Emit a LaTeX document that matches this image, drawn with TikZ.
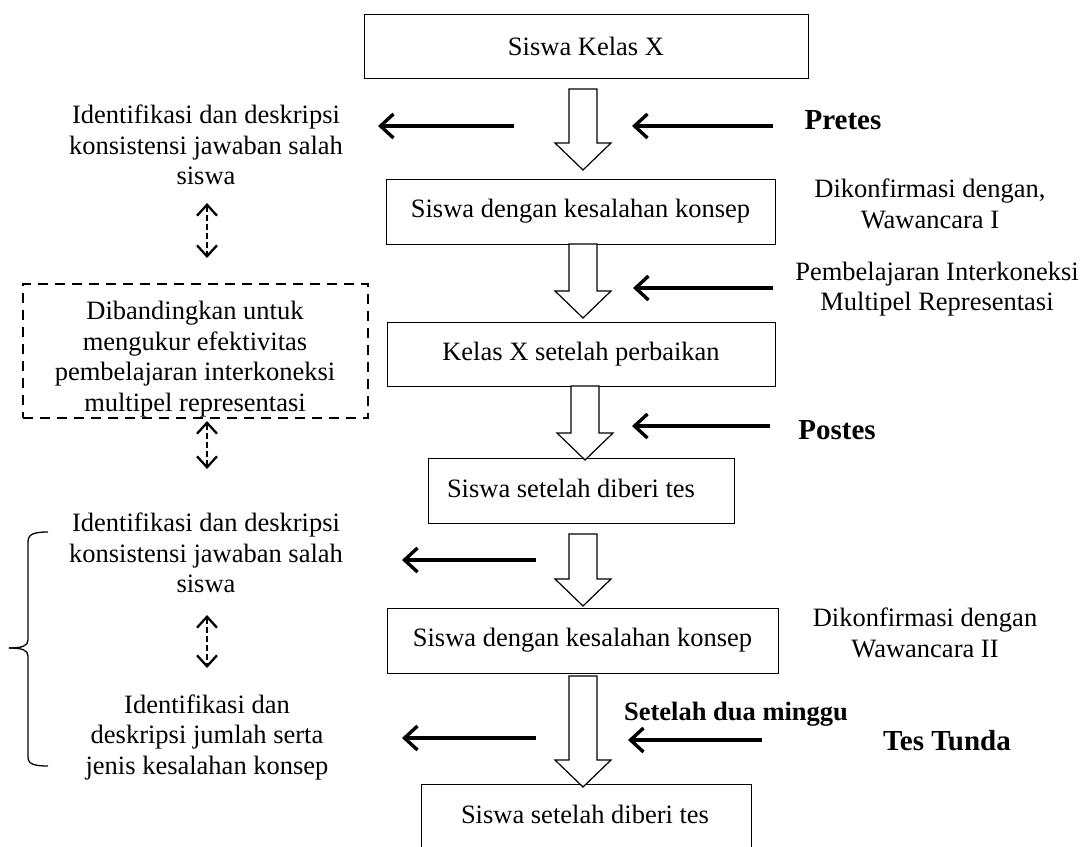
\documentclass[tikz,border=0pt]{standalone}
\usepackage{fontspec}
\setmainfont{Liberation Serif}
\usetikzlibrary{arrows.meta}
\newcommand\fsn{\fontsize{26.5}{30.5}\selectfont}
\newcommand\fsb{\fontsize{29}{32}\selectfont\bfseries}
\newcommand\hollowarr[3]{\draw[hol] (#1-14,#2) -- (#1+14,#2) -- (#1+14,#3-27) -- (#1+28,#3-27) -- (#1,#3) -- (#1-28,#3-27) -- (#1-14,#3-27) -- cycle;}
\begin{document}
\begin{tikzpicture}[x=1pt,y=-1pt,
  box/.style={draw, line width=1pt, inner sep=0pt, font=\fsn},
  txt/.style={align=center, inner sep=0pt, font=\fsn},
  btxt/.style={inner sep=0pt, font=\fsb, anchor=base},
  hol/.style={draw, line width=1.2pt, fill=white, line join=miter},
  blk/.style={line width=3.4pt, -{Straight Barb[length=13pt,width=24pt,line width=3.4pt]}},
  dbl/.style={line width=2.3pt, dash pattern=on 6pt off 3pt,
    {Straight Barb[length=11pt,width=20pt,line width=2.3pt]}-{Straight Barb[length=11pt,width=20pt,line width=2.3pt]}},
  brc/.style={line width=1.3pt}]
\useasboundingbox (0,0) rectangle (1084,846);
\clip (0,0) rectangle (1084,846);
\fill[white] (0,0) rectangle (1084,846);

% main boxes
\node[box, minimum width=444, minimum height=64] (b1) at (586,46) {Siswa Kelas X};
\node[box, minimum width=389, minimum height=65] (b2) at (580.5,211.5) {Siswa dengan kesalahan konsep};
\node[box, minimum width=388, minimum height=64] (b3) at (581,354) {Kelas X setelah perbaikan};
\node[box, minimum width=306, minimum height=65] (b4) at (581,490.5) {};
\node[txt, anchor=base] (b4t) at (571,497) {Siswa setelah diberi tes};
\node[box, minimum width=391, minimum height=65] (b5) at (582.5,640.5) {Siswa dengan kesalahan konsep};
\node[box, minimum width=330, minimum height=120, anchor=north] (b6) at (586,784) {};
\node[txt, anchor=base] (b6t) at (585,823) {Siswa setelah diberi tes};

% hollow arrows
\hollowarr{583}{89}{170}
\hollowarr{583}{244}{318}
\hollowarr{585}{386}{460}
\hollowarr{583}{534}{606}
\hollowarr{583}{676}{787}

% left texts
\node[txt] (t1) at (206,145) {Identifikasi dan deskripsi\\konsistensi jawaban salah\\siswa};
\node[draw, dash pattern=on 10pt off 7pt, line width=2.2pt, minimum width=345, minimum height=134, inner sep=0pt] (cmpbox) at (195.5,351) {};
\node[txt] (cmp) at (195,359) {Dibandingkan untuk\\mengukur efektivitas\\pembelajaran interkoneksi\\multipel representasi};
\node[txt] (t2) at (206,553) {Identifikasi dan deskripsi\\konsistensi jawaban salah\\siswa};
\node[txt] (t3) at (207,737) {Identifikasi dan\\deskripsi jumlah serta\\jenis kesalahan konsep};

% right texts
\node[btxt] (pre) at (843,129) {Pretes};
\node[txt] (k1) at (930,204) {Dikonfirmasi dengan,\\Wawancara I};
\node[txt] (pmb) at (937,289) {Pembelajaran Interkoneksi\\Multipel Representasi};
\node[btxt] (post) at (837,439) {Postes};
\node[txt] (k2) at (925,633) {Dikonfirmasi dengan\\Wawancara II};
\node[btxt, font=\fontsize{26.5}{30}\selectfont\bfseries] (sdm) at (736,720) {Setelah dua minggu};
\node[btxt] (tt) at (947,750) {Tes Tunda};

% dashed double arrows
\coordinate (d1a) at (207,203); \coordinate (d1b) at (207,258);
\coordinate (d2a) at (207,421); \coordinate (d2b) at (207,469);
\coordinate (d3a) at (207,615); \coordinate (d3b) at (207,668);
\draw[dbl] (d1a) -- (d1b);
\draw[dbl] (d2a) -- (d2b);
\draw[dbl] (d3a) -- (d3b);

% black arrows
\coordinate (a1s) at (514,126); \coordinate (a1e) at (378,126);
\coordinate (a2s) at (773,126); \coordinate (a2e) at (632,126);
\coordinate (a3s) at (773,288); \coordinate (a3e) at (633,288);
\coordinate (a4s) at (770,426); \coordinate (a4e) at (632,426);
\coordinate (a5s) at (536,560); \coordinate (a5e) at (402,560);
\coordinate (a6s) at (536,738); \coordinate (a6e) at (402,738);
\coordinate (a7s) at (762,740); \coordinate (a7e) at (628,740);
\draw[blk] (a1s) -- (a1e);
\draw[blk] (a2s) -- (a2e);
\draw[blk] (a3s) -- (a3e);
\draw[blk] (a4s) -- (a4e);
\draw[blk] (a5s) -- (a5e);
\draw[blk] (a6s) -- (a6e);
\draw[blk] (a7s) -- (a7e);

% brace
\coordinate (brtop) at (48,532); \coordinate (brtip) at (9,648); \coordinate (brbot) at (48,766);
\draw[brc] (brtop) .. controls (34,532) and (28,534) .. (28,542) -- (28,640) .. controls (28,646) and (22,648) .. (brtip);
\draw[brc] (brtip) .. controls (22,648) and (28,650) .. (28,656) -- (28,757) .. controls (28,764) and (34,766) .. (brbot);
\end{tikzpicture}
\end{document}
